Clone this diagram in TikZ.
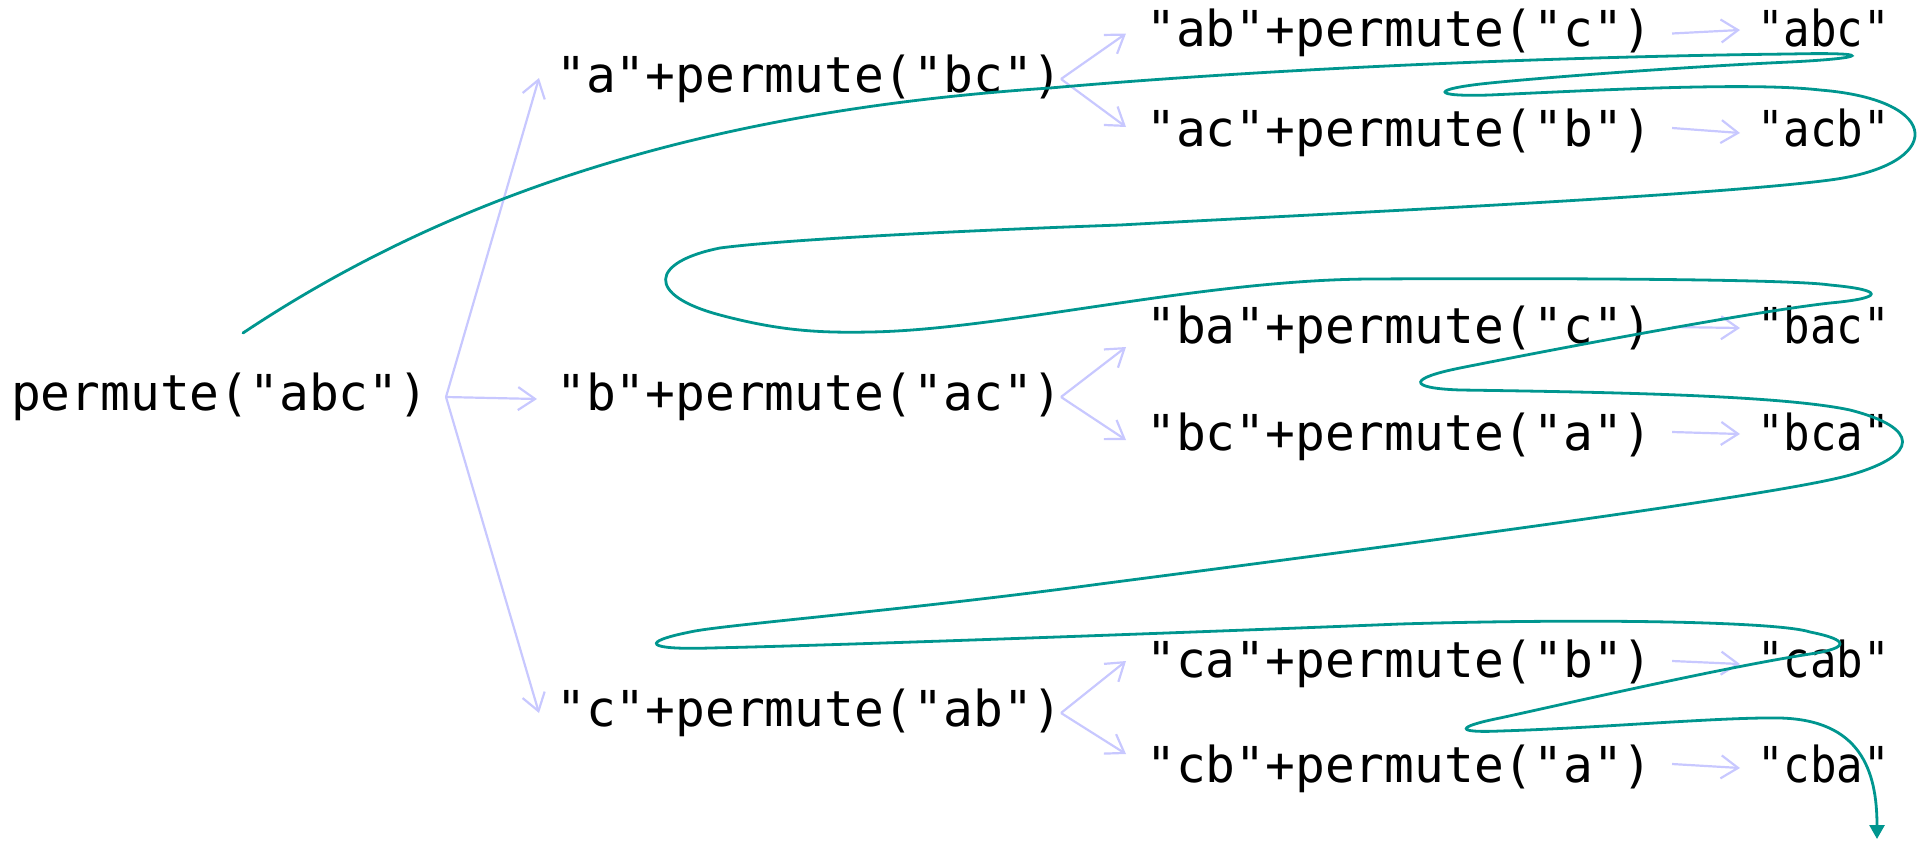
\documentclass[tikz,border=0pt]{standalone}
\usepackage{fontspec}
\setmonofont{DejaVu Sans Mono}
\newfontfamily\resfont[FakeStretch=0.89]{DejaVu Sans Mono}
\usetikzlibrary{arrows.meta}
\definecolor{treecol}{RGB}{200,200,255}
\definecolor{pathcol}{RGB}{0,150,143}
\tikzset{
  lbl/.style={anchor=base west, inner sep=0pt, text height=38pt, text depth=12pt,
    font=\ttfamily\fontsize{49.5}{60}\selectfont},
  res/.style={lbl, font=\resfont\fontsize{49.5}{60}\selectfont},
  tree/.style={draw=treecol, line width=2.2pt, -{Straight Barb[length=17pt,width=23pt]}},
  walk/.style={draw=pathcol, line width=2.8pt, line cap=round, -{Triangle[length=14pt,width=15pt]}},
}
\begin{document}
\begin{tikzpicture}[x=1pt,y=-1pt]
\useasboundingbox (0,0) rectangle (1917,841);
% nodes
\node[lbl] (root) at (11,410) {permute("abc")};
\node[lbl] (a) at (556,92) {"a"+permute("bc")};
\node[lbl] (b) at (556,410) {"b"+permute("ac")};
\node[lbl] (c) at (556,726) {"c"+permute("ab")};
\node[lbl] (ab) at (1146,46.5) {"ab"+permute("c")};
\node[lbl] (ac) at (1146,146) {"ac"+permute("b")};
\node[lbl] (ba) at (1146,343) {"ba"+permute("c")};
\node[lbl] (bc) at (1146,450) {"bc"+permute("a")};
\node[lbl] (ca) at (1146,677) {"ca"+permute("b")};
\node[lbl] (cb) at (1146,782) {"cb"+permute("a")};
\node[res] (abc) at (1757,46.5) {"abc"};
\node[res] (acb) at (1757,146) {"acb"};
\node[res] (bac) at (1757,343) {"bac"};
\node[res] (bca) at (1757,450) {"bca"};
\node[res] (cab) at (1757,677) {"cab"};
\node[res] (cba) at (1757,782) {"cba"};
% fork points
\coordinate (f0) at (446,397);
\coordinate (fa) at (1061,79);
\coordinate (fb) at (1061,397);
\coordinate (fc) at (1061,713);
% tree arrows
\draw[tree] (f0) -- ([xshift=-17pt,yshift=1pt]a.west);
\draw[tree] (f0) -- ([xshift=-19pt,yshift=-2pt]b.west);
\draw[tree] (f0) -- ([xshift=-17pt]c.west);
\draw[tree] (fa) -- ([xshift=-20pt]ab.west);
\draw[tree] (fa) -- ([xshift=-20pt,yshift=6pt]ac.west);
\draw[tree] (fb) -- ([xshift=-20pt,yshift=-17pt]ba.west);
\draw[tree] (fb) -- ([xshift=-20pt,yshift=-3pt]bc.west);
\draw[tree] (fc) -- ([xshift=-20pt,yshift=3pt]ca.west);
\draw[tree] (fc) -- ([xshift=-20pt,yshift=15pt]cb.west);
\draw[tree] ([xshift=19pt]ab.east) -- ([xshift=-17pt,yshift=3.5pt]abc.west);
\draw[tree] ([xshift=19pt,yshift=5pt]ac.east) -- ([xshift=-17pt]acb.west);
\draw[tree] ([xshift=19pt,yshift=3pt]ba.east) -- ([xshift=-17pt,yshift=2pt]bac.west);
\draw[tree] ([xshift=19pt,yshift=5pt]bc.east) -- ([xshift=-17pt,yshift=3pt]bca.west);
\draw[tree] ([xshift=19pt,yshift=3pt]ca.east) -- ([xshift=-17pt]cab.west);
\draw[tree] ([xshift=19pt,yshift=5pt]cb.east) -- ([xshift=-17pt,yshift=1pt]cba.west);
% traversal path
\coordinate (s) at (243,333);
\coordinate (e) at (1877,839);
\draw[walk] (s)
  .. controls (480,175) and (750,108) .. (1050,88)
  .. controls (1300,66) and (1600,56) .. (1790,54)
  .. controls (1875,52) and (1870,58) .. (1790,62)
  .. controls (1700,66) and (1560,76) .. (1490,83)
  .. controls (1430,89) and (1430,97) .. (1490,95)
  .. controls (1600,90) and (1750,82) .. (1820,90)
  .. controls (1945,100) and (1945,165) .. (1830,180)
  .. controls (1700,197) and (1300,215) .. (1120,225)
  .. controls (950,231) and (780,240) .. (720,248)
  .. controls (650,262) and (645,295) .. (720,315)
  .. controls (780,331) and (820,333) .. (870,332)
  .. controls (1000,330) and (1200,280) .. (1370,279)
  .. controls (1550,278) and (1790,279) .. (1830,285)
  .. controls (1885,290) and (1885,298) .. (1830,303)
  .. controls (1750,312) and (1550,350) .. (1460,368)
  .. controls (1410,378) and (1405,388) .. (1460,390)
  .. controls (1600,392) and (1780,395) .. (1850,410)
  .. controls (1920,428) and (1920,455) .. (1850,475)
  .. controls (1780,495) and (1400,545) .. (1100,584)
  .. controls (900,611) and (720,625) .. (690,632)
  .. controls (640,642) and (645,650) .. (710,648)
  .. controls (850,645) and (1200,632) .. (1400,624)
  .. controls (1600,618) and (1780,622) .. (1810,632)
  .. controls (1850,640) and (1850,648) .. (1810,654)
  .. controls (1720,668) and (1560,705) .. (1500,718)
  .. controls (1455,727) and (1455,733) .. (1500,731)
  .. controls (1600,728) and (1720,717) .. (1780,718)
  .. controls (1860,720) and (1877,770) .. (e);
\end{tikzpicture}
\end{document}
